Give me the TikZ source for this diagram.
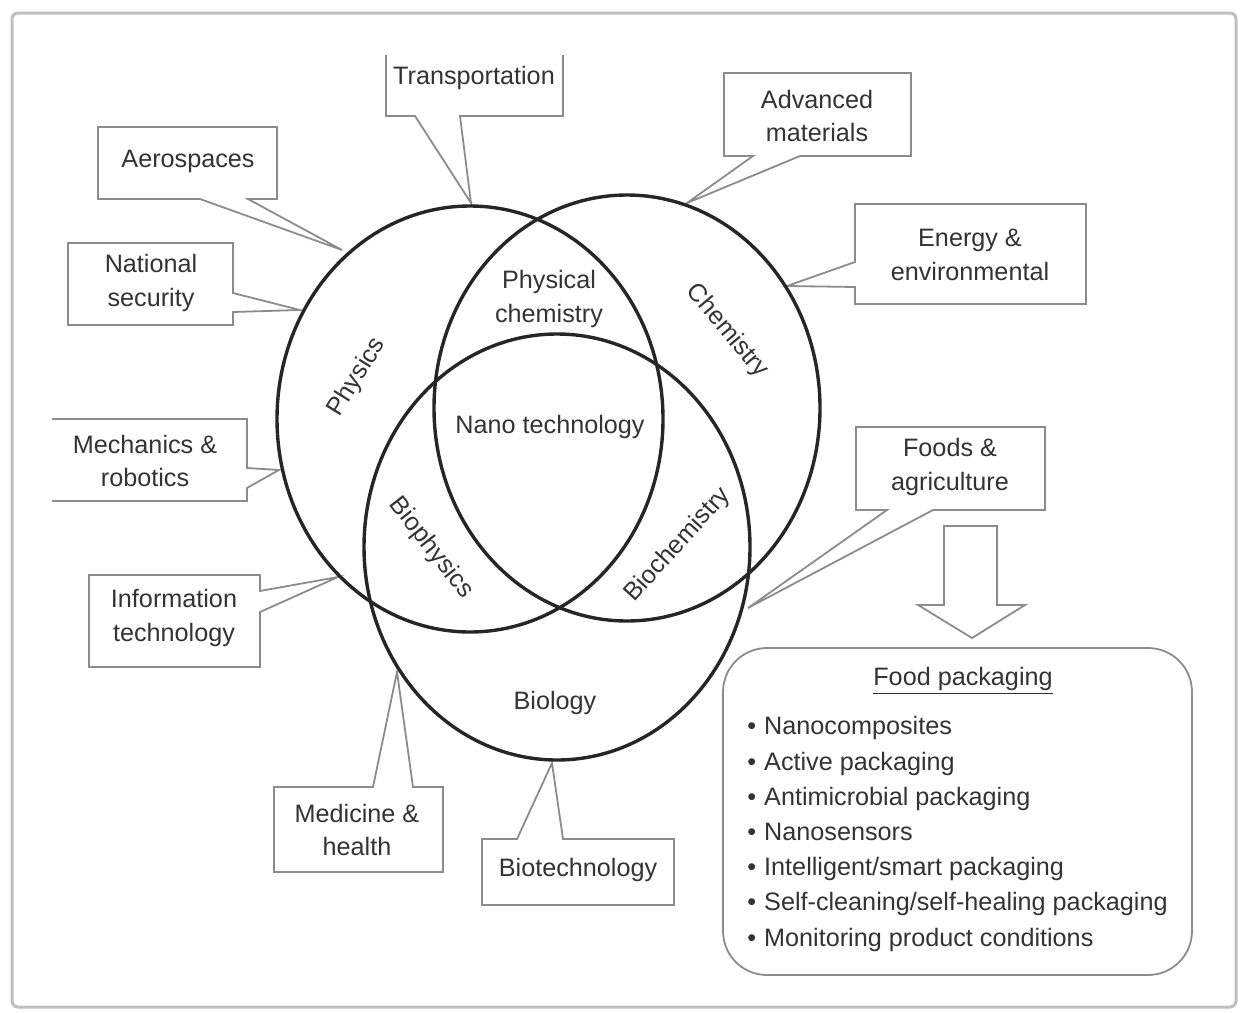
\documentclass[tikz,border=0pt]{standalone}
\usepackage{fontspec}
\setmainfont{Liberation Sans}

\begin{document}
\begin{tikzpicture}[x=0.5pt,y=-0.5pt,
    lbl/.style={font=\fontsize{12.6}{16.7}\selectfont, text=black!80, align=center, inner sep=0pt},
    box/.style={draw=black!45, line width=0.9pt, fill=white, line join=miter},
    ring/.style={draw=black!85, line width=1.7pt}]
    \useasboundingbox (0,0) rectangle (1247,1012);

    % Outer frame
    \draw [black!25, line width=1.5pt, rounded corners=3pt] (12,13) rectangle (1236,1007);

    % Callout boxes (pointer tips end on the rings)
    \draw [box] (386,55) -- (386,116) -- (415,116) -- (471,203) -- (460,116) -- (563,116) -- (563,55);
    \draw [box] (98,127) -- (277,127) -- (277,199) -- (248,199) -- (342,250) -- (200,199) -- (98,199) -- cycle;
    \draw [box] (68,243) -- (233,243) -- (233,293) -- (300,310) -- (233,312) -- (233,325) -- (68,325) -- cycle;
    \draw [box] (724,73) -- (911,73) -- (911,156) -- (800,156) -- (687,203) -- (753,156) -- (724,156) -- cycle;
    \draw [box] (855,204) -- (1086,204) -- (1086,304) -- (855,304) -- (855,287) -- (787,286) -- (855,262) -- cycle;
    \draw [box] (52,419) -- (247,419) -- (247,468) -- (279,470) -- (247,488) -- (247,501) -- (52,501);
    \draw [box] (89,575) -- (260,575) -- (260,591) -- (338,577) -- (260,612) -- (260,667) -- (89,667) -- cycle;
    \draw [box] (274,787) -- (373,787) -- (397,672) -- (413,787) -- (443,787) -- (443,872) -- (274,872) -- cycle;
    \draw [box] (482,839) -- (517,839) -- (552,763) -- (563,839) -- (674,839) -- (674,905) -- (482,905) -- cycle;
    \draw [box] (856,427) -- (1045,427) -- (1045,510) -- (933,510) -- (748,608) -- (887,510) -- (856,510) -- cycle;

    % Callout texts
    \node [lbl] (trans) at (474,78) {Transportation};
    \node [lbl] (aero) at (188,161) {Aerospaces};
    \node [lbl] (natsec) at (151,283) {National\\security};
    \node [lbl] (advmat) at (817,116) {Advanced\\materials};
    \node [lbl] (energy) at (970,255) {Energy \&\\environmental};
    \node [lbl] (mech) at (145,461) {Mechanics \&\\robotics};
    \node [lbl] (infotech) at (174,618) {Information\\technology};
    \node [lbl] (medic) at (357,830) {Medicine \&\\health};
    \node [lbl] (biotech) at (578,870) {Biotechnology};
    \node [lbl] (foods) at (950,467) {Foods \&\\agriculture};

    % The three rings
    \draw [ring] (470,419) ellipse [x radius=193, y radius=213];
    \draw [ring] (627,408) ellipse [x radius=193, y radius=213];
    \draw [ring] (557,547) ellipse [x radius=193, y radius=213];

    % Ring and overlap labels
    \node [lbl, rotate=58] (phys) at (357,377) {Physics};
    \node [lbl, rotate=-50] (chem) at (727,331) {Chemistry};
    \node [lbl] (physchem) at (549,299) {Physical\\chemistry};
    \node [lbl] (nano) at (550,427) {Nano technology};
    \node [lbl, rotate=-52] (biophys) at (431,548) {Biophysics};
    \node [lbl, rotate=48] (biochem) at (678,545) {Biochemistry};
    \node [lbl] (bio) at (555,703) {Biology};

    % Block arrow down to the packaging box
    \draw [box] (944,526) -- (997,526) -- (997,605) -- (1025,605) -- (972,638) -- (918,605) -- (944,605) -- cycle;

    % Food packaging box
    \draw [box, rounded corners=22pt] (723,648) rectangle (1192,975);
    \node [lbl] (pack) at (963,681) {\underline{Food packaging}};
    \node [lbl, align=left, anchor=west, font=\fontsize{12.6}{17.6}\selectfont] (packlist) at (747,834)
        {\textbullet\hspace{4pt}Nanocomposites\\
         \textbullet\hspace{4pt}Active packaging\\
         \textbullet\hspace{4pt}Antimicrobial packaging\\
         \textbullet\hspace{4pt}Nanosensors\\
         \textbullet\hspace{4pt}Intelligent/smart packaging\\
         \textbullet\hspace{4pt}Self-cleaning/self-healing packaging\\
         \textbullet\hspace{4pt}Monitoring product conditions};
\end{tikzpicture}
\end{document}
